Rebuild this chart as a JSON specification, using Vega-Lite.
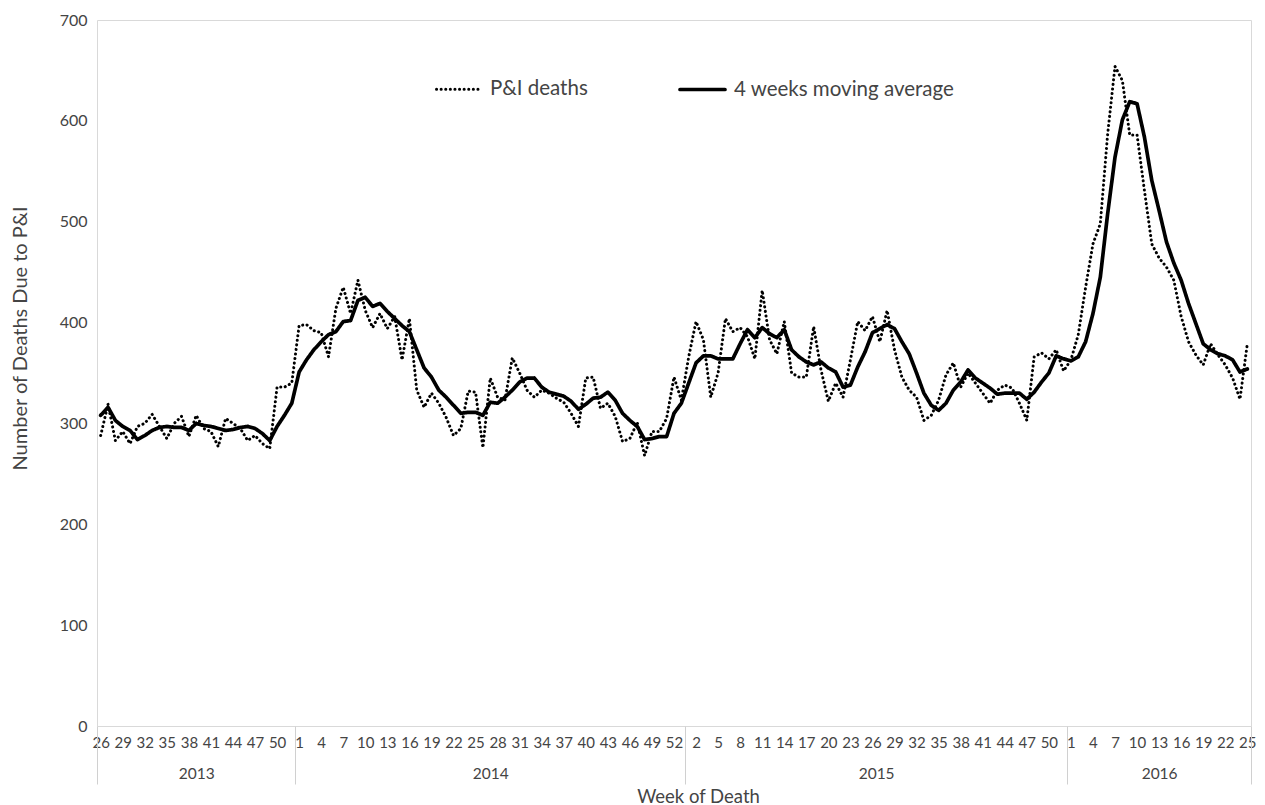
{
  "$schema": "https://vega.github.io/schema/vega-lite/v6.json",
  "width": 1154,
  "height": 706,
  "autosize": "none",
  "padding": {"left": 97, "top": 20, "right": 14, "bottom": 79},
  "background": "white",
  "config": {
    "font": "Lato",
    "view": {"stroke": "#d9d9d9", "strokeWidth": 1}
  },
  "datasets": {
    "weeks": [
      {"idx":0,"year":2013,"week":26,"deaths":288,"ma":308},
      {"idx":1,"year":2013,"week":27,"deaths":319,"ma":316},
      {"idx":2,"year":2013,"week":28,"deaths":283,"ma":303},
      {"idx":3,"year":2013,"week":29,"deaths":292,"ma":297},
      {"idx":4,"year":2013,"week":30,"deaths":280,"ma":293},
      {"idx":5,"year":2013,"week":31,"deaths":297,"ma":284},
      {"idx":6,"year":2013,"week":32,"deaths":300,"ma":288},
      {"idx":7,"year":2013,"week":33,"deaths":309,"ma":293},
      {"idx":8,"year":2013,"week":34,"deaths":297,"ma":296},
      {"idx":9,"year":2013,"week":35,"deaths":285,"ma":297},
      {"idx":10,"year":2013,"week":36,"deaths":300,"ma":296},
      {"idx":11,"year":2013,"week":37,"deaths":307,"ma":296},
      {"idx":12,"year":2013,"week":38,"deaths":287,"ma":293},
      {"idx":13,"year":2013,"week":39,"deaths":308,"ma":300},
      {"idx":14,"year":2013,"week":40,"deaths":295,"ma":298},
      {"idx":15,"year":2013,"week":41,"deaths":292,"ma":297},
      {"idx":16,"year":2013,"week":42,"deaths":277,"ma":295},
      {"idx":17,"year":2013,"week":43,"deaths":305,"ma":293},
      {"idx":18,"year":2013,"week":44,"deaths":300,"ma":294},
      {"idx":19,"year":2013,"week":45,"deaths":295,"ma":296},
      {"idx":20,"year":2013,"week":46,"deaths":283,"ma":297},
      {"idx":21,"year":2013,"week":47,"deaths":288,"ma":295},
      {"idx":22,"year":2013,"week":48,"deaths":280,"ma":290},
      {"idx":23,"year":2013,"week":49,"deaths":275,"ma":283},
      {"idx":24,"year":2013,"week":50,"deaths":336,"ma":297},
      {"idx":25,"year":2013,"week":51,"deaths":336,"ma":308},
      {"idx":26,"year":2013,"week":52,"deaths":340,"ma":320},
      {"idx":27,"year":2014,"week":1,"deaths":397,"ma":351},
      {"idx":28,"year":2014,"week":2,"deaths":398,"ma":363},
      {"idx":29,"year":2014,"week":3,"deaths":392,"ma":373},
      {"idx":30,"year":2014,"week":4,"deaths":390,"ma":381},
      {"idx":31,"year":2014,"week":5,"deaths":366,"ma":388},
      {"idx":32,"year":2014,"week":6,"deaths":414,"ma":391},
      {"idx":33,"year":2014,"week":7,"deaths":435,"ma":401},
      {"idx":34,"year":2014,"week":8,"deaths":409,"ma":402},
      {"idx":35,"year":2014,"week":9,"deaths":442,"ma":422},
      {"idx":36,"year":2014,"week":10,"deaths":412,"ma":425},
      {"idx":37,"year":2014,"week":11,"deaths":395,"ma":416},
      {"idx":38,"year":2014,"week":12,"deaths":409,"ma":419},
      {"idx":39,"year":2014,"week":13,"deaths":394,"ma":411},
      {"idx":40,"year":2014,"week":14,"deaths":406,"ma":404},
      {"idx":41,"year":2014,"week":15,"deaths":363,"ma":397},
      {"idx":42,"year":2014,"week":16,"deaths":404,"ma":391},
      {"idx":43,"year":2014,"week":17,"deaths":333,"ma":373},
      {"idx":44,"year":2014,"week":18,"deaths":316,"ma":355},
      {"idx":45,"year":2014,"week":19,"deaths":330,"ma":346},
      {"idx":46,"year":2014,"week":20,"deaths":320,"ma":333},
      {"idx":47,"year":2014,"week":21,"deaths":306,"ma":326},
      {"idx":48,"year":2014,"week":22,"deaths":288,"ma":318},
      {"idx":49,"year":2014,"week":23,"deaths":295,"ma":310},
      {"idx":50,"year":2014,"week":24,"deaths":332,"ma":311},
      {"idx":51,"year":2014,"week":25,"deaths":331,"ma":311},
      {"idx":52,"year":2014,"week":26,"deaths":276,"ma":308},
      {"idx":53,"year":2014,"week":27,"deaths":345,"ma":321},
      {"idx":54,"year":2014,"week":28,"deaths":326,"ma":320},
      {"idx":55,"year":2014,"week":29,"deaths":323,"ma":326},
      {"idx":56,"year":2014,"week":30,"deaths":365,"ma":333},
      {"idx":57,"year":2014,"week":31,"deaths":350,"ma":341},
      {"idx":58,"year":2014,"week":32,"deaths":333,"ma":345},
      {"idx":59,"year":2014,"week":33,"deaths":326,"ma":345},
      {"idx":60,"year":2014,"week":34,"deaths":333,"ma":336},
      {"idx":61,"year":2014,"week":35,"deaths":330,"ma":331},
      {"idx":62,"year":2014,"week":36,"deaths":325,"ma":329},
      {"idx":63,"year":2014,"week":37,"deaths":321,"ma":327},
      {"idx":64,"year":2014,"week":38,"deaths":310,"ma":322},
      {"idx":65,"year":2014,"week":39,"deaths":297,"ma":314},
      {"idx":66,"year":2014,"week":40,"deaths":345,"ma":319},
      {"idx":67,"year":2014,"week":41,"deaths":346,"ma":325},
      {"idx":68,"year":2014,"week":42,"deaths":315,"ma":326},
      {"idx":69,"year":2014,"week":43,"deaths":320,"ma":331},
      {"idx":70,"year":2014,"week":44,"deaths":307,"ma":323},
      {"idx":71,"year":2014,"week":45,"deaths":282,"ma":310},
      {"idx":72,"year":2014,"week":46,"deaths":285,"ma":303},
      {"idx":73,"year":2014,"week":47,"deaths":301,"ma":297},
      {"idx":74,"year":2014,"week":48,"deaths":268,"ma":284},
      {"idx":75,"year":2014,"week":49,"deaths":292,"ma":285},
      {"idx":76,"year":2014,"week":50,"deaths":292,"ma":287},
      {"idx":77,"year":2014,"week":51,"deaths":305,"ma":287},
      {"idx":78,"year":2014,"week":52,"deaths":346,"ma":310},
      {"idx":79,"year":2014,"week":53,"deaths":323,"ma":320},
      {"idx":80,"year":2015,"week":1,"deaths":366,"ma":340},
      {"idx":81,"year":2015,"week":2,"deaths":401,"ma":360},
      {"idx":82,"year":2015,"week":3,"deaths":383,"ma":367},
      {"idx":83,"year":2015,"week":4,"deaths":326,"ma":367},
      {"idx":84,"year":2015,"week":5,"deaths":350,"ma":364},
      {"idx":85,"year":2015,"week":6,"deaths":404,"ma":364},
      {"idx":86,"year":2015,"week":7,"deaths":391,"ma":364},
      {"idx":87,"year":2015,"week":8,"deaths":395,"ma":379},
      {"idx":88,"year":2015,"week":9,"deaths":386,"ma":393},
      {"idx":89,"year":2015,"week":10,"deaths":364,"ma":385},
      {"idx":90,"year":2015,"week":11,"deaths":432,"ma":395},
      {"idx":91,"year":2015,"week":12,"deaths":383,"ma":389},
      {"idx":92,"year":2015,"week":13,"deaths":369,"ma":385},
      {"idx":93,"year":2015,"week":14,"deaths":401,"ma":393},
      {"idx":94,"year":2015,"week":15,"deaths":350,"ma":373},
      {"idx":95,"year":2015,"week":16,"deaths":346,"ma":366},
      {"idx":96,"year":2015,"week":17,"deaths":346,"ma":361},
      {"idx":97,"year":2015,"week":18,"deaths":396,"ma":358},
      {"idx":98,"year":2015,"week":19,"deaths":353,"ma":361},
      {"idx":99,"year":2015,"week":20,"deaths":322,"ma":355},
      {"idx":100,"year":2015,"week":21,"deaths":340,"ma":351},
      {"idx":101,"year":2015,"week":22,"deaths":326,"ma":336},
      {"idx":102,"year":2015,"week":23,"deaths":363,"ma":338},
      {"idx":103,"year":2015,"week":24,"deaths":401,"ma":356},
      {"idx":104,"year":2015,"week":25,"deaths":392,"ma":371},
      {"idx":105,"year":2015,"week":26,"deaths":406,"ma":390},
      {"idx":106,"year":2015,"week":27,"deaths":381,"ma":394},
      {"idx":107,"year":2015,"week":28,"deaths":412,"ma":398},
      {"idx":108,"year":2015,"week":29,"deaths":373,"ma":394},
      {"idx":109,"year":2015,"week":30,"deaths":346,"ma":381},
      {"idx":110,"year":2015,"week":31,"deaths":333,"ma":369},
      {"idx":111,"year":2015,"week":32,"deaths":326,"ma":350},
      {"idx":112,"year":2015,"week":33,"deaths":303,"ma":330},
      {"idx":113,"year":2015,"week":34,"deaths":308,"ma":318},
      {"idx":114,"year":2015,"week":35,"deaths":323,"ma":313},
      {"idx":115,"year":2015,"week":36,"deaths":348,"ma":320},
      {"idx":116,"year":2015,"week":37,"deaths":360,"ma":333},
      {"idx":117,"year":2015,"week":38,"deaths":336,"ma":341},
      {"idx":118,"year":2015,"week":39,"deaths":350,"ma":353},
      {"idx":119,"year":2015,"week":40,"deaths":340,"ma":345},
      {"idx":120,"year":2015,"week":41,"deaths":330,"ma":340},
      {"idx":121,"year":2015,"week":42,"deaths":320,"ma":335},
      {"idx":122,"year":2015,"week":43,"deaths":333,"ma":329},
      {"idx":123,"year":2015,"week":44,"deaths":338,"ma":330},
      {"idx":124,"year":2015,"week":45,"deaths":335,"ma":330},
      {"idx":125,"year":2015,"week":46,"deaths":320,"ma":330},
      {"idx":126,"year":2015,"week":47,"deaths":303,"ma":324},
      {"idx":127,"year":2015,"week":48,"deaths":366,"ma":331},
      {"idx":128,"year":2015,"week":49,"deaths":370,"ma":341},
      {"idx":129,"year":2015,"week":50,"deaths":364,"ma":350},
      {"idx":130,"year":2015,"week":51,"deaths":373,"ma":367},
      {"idx":131,"year":2015,"week":52,"deaths":352,"ma":364},
      {"idx":132,"year":2016,"week":1,"deaths":363,"ma":362},
      {"idx":133,"year":2016,"week":2,"deaths":388,"ma":366},
      {"idx":134,"year":2016,"week":3,"deaths":435,"ma":381},
      {"idx":135,"year":2016,"week":4,"deaths":478,"ma":409},
      {"idx":136,"year":2016,"week":5,"deaths":498,"ma":445},
      {"idx":137,"year":2016,"week":6,"deaths":587,"ma":508},
      {"idx":138,"year":2016,"week":7,"deaths":654,"ma":564},
      {"idx":139,"year":2016,"week":8,"deaths":640,"ma":601},
      {"idx":140,"year":2016,"week":9,"deaths":586,"ma":619},
      {"idx":141,"year":2016,"week":10,"deaths":586,"ma":617},
      {"idx":142,"year":2016,"week":11,"deaths":531,"ma":584},
      {"idx":143,"year":2016,"week":12,"deaths":478,"ma":541},
      {"idx":144,"year":2016,"week":13,"deaths":464,"ma":511},
      {"idx":145,"year":2016,"week":14,"deaths":455,"ma":480},
      {"idx":146,"year":2016,"week":15,"deaths":442,"ma":459},
      {"idx":147,"year":2016,"week":16,"deaths":406,"ma":442},
      {"idx":148,"year":2016,"week":17,"deaths":381,"ma":419},
      {"idx":149,"year":2016,"week":18,"deaths":368,"ma":399},
      {"idx":150,"year":2016,"week":19,"deaths":358,"ma":379},
      {"idx":151,"year":2016,"week":20,"deaths":379,"ma":373},
      {"idx":152,"year":2016,"week":21,"deaths":368,"ma":369},
      {"idx":153,"year":2016,"week":22,"deaths":358,"ma":367},
      {"idx":154,"year":2016,"week":23,"deaths":345,"ma":363},
      {"idx":155,"year":2016,"week":24,"deaths":324,"ma":351},
      {"idx":156,"year":2016,"week":25,"deaths":379,"ma":354}
    ],
    "years": [
      {"year":"2013","mid":13},
      {"year":"2014","mid":53},
      {"year":"2015","mid":105.5},
      {"year":"2016","mid":144}
    ],
    "bounds": [
      {"b":-0.5},{"b":26.5},{"b":79.5},{"b":131.5},{"b":156.5}
    ]
  },
  "layer": [
    {
      "data": {"name": "weeks"},
      "transform": [{"fold": ["deaths", "ma"], "as": ["series", "value"]}],
      "mark": {"type": "line", "color": "black", "strokeCap": "round", "strokeJoin": "round"},
      "encoding": {
        "x": {
          "field": "idx", "type": "quantitative",
          "scale": {"domain": [-0.5, 156.5], "nice": false, "zero": false},
          "axis": {
            "orient": "bottom",
            "values": [0,3,6,9,12,15,18,21,24,27,30,33,36,39,42,45,48,51,54,57,60,63,66,69,72,75,78,81,84,87,90,93,96,99,102,105,108,111,114,117,120,123,126,129,132,135,138,141,144,147,150,153,156],
            "labelExpr": "datum.value < 27 ? datum.value + 26 : datum.value < 80 ? datum.value - 26 : datum.value < 132 ? datum.value - 79 : datum.value - 131",
            "ticks": false, "domain": false, "grid": false,
            "labelFontSize": 15, "labelColor": "#444444", "labelPadding": 9,
            "labelFlush": false, "labelOverlap": false, "title": null
          }
        },
        "y": {
          "field": "value", "type": "quantitative",
          "scale": {"domain": [0, 700], "nice": false},
          "axis": {
            "values": [0,100,200,300,400,500,600,700],
            "ticks": false, "domain": false, "grid": false,
            "labelFontSize": 16, "labelColor": "#444444", "labelPadding": 10,
            "title": "Number of Deaths Due to P&I",
            "titleFontSize": 20, "titleFontWeight": "normal", "titleColor": "#444444",
            "titleBaseline": "middle", "titleX": -77, "titleY": 318
          }
        },
        "strokeDash": {
          "field": "series", "type": "nominal",
          "scale": {"domain": ["deaths", "ma"], "range": [[0.1, 4.5], [1, 0]]},
          "legend": {
            "orient": "none", "legendX": 338, "legendY": 45, "direction": "horizontal",
            "title": null, "symbolType": "stroke", "symbolSize": 2025, "symbolStrokeColor": "black",
            "labelExpr": "datum.label == 'deaths' ? 'P&I deaths' : '4 weeks moving average'",
            "labelFontSize": 20.5, "labelColor": "#444444", "labelOffset": 7, "columnPadding": 84,
            "labelLimit": 400,
            "encode": {"symbols": {"update": {"strokeCap": {"value": "round"}}}}
          }
        },
        "strokeWidth": {
          "field": "series", "type": "nominal",
          "scale": {"domain": ["deaths", "ma"], "range": [3, 3.7]},
          "legend": {
            "orient": "none", "legendX": 338, "legendY": 45, "direction": "horizontal",
            "title": null, "symbolType": "stroke", "symbolSize": 2025, "symbolStrokeColor": "black",
            "labelExpr": "datum.label == 'deaths' ? 'P&I deaths' : '4 weeks moving average'",
            "labelFontSize": 20.5, "labelColor": "#444444", "labelOffset": 7, "columnPadding": 84,
            "labelLimit": 400,
            "encode": {"symbols": {"update": {"strokeCap": {"value": "round"}}}}
          }
        }
      }
    },
    {
      "data": {"name": "years"},
      "mark": {"type": "rule", "opacity": 0},
      "encoding": {
        "x": {
          "field": "mid", "type": "quantitative",
          "scale": {"domain": [-0.5, 156.5], "nice": false, "zero": false},
          "axis": {
            "orient": "bottom",
            "values": [13, 53, 105.5, 144],
            "labelExpr": "datum.value < 27 ? '2013' : datum.value < 80 ? '2014' : datum.value < 132 ? '2015' : '2016'",
            "ticks": false, "domain": false, "grid": false,
            "labelFontSize": 15.5, "labelColor": "#444444", "labelPadding": 40,
            "labelFlush": false, "labelOverlap": false, "title": null
          }
        }
      }
    },
    {
      "data": {"name": "bounds"},
      "mark": {"type": "rule", "opacity": 0},
      "encoding": {
        "x": {
          "field": "b", "type": "quantitative",
          "scale": {"domain": [-0.5, 156.5], "nice": false, "zero": false},
          "axis": {
            "orient": "bottom",
            "values": [-0.5, 26.5, 79.5, 131.5, 156.5],
            "ticks": true, "tickSize": 58, "tickColor": "#d0d0d0", "tickWidth": 1,
            "labels": false, "domain": false, "grid": false,
            "title": "Week of Death", "titleFontSize": 18.5, "titleFontWeight": "normal",
            "titleColor": "#444444", "titleBaseline": "alphabetic", "titleX": 601, "titleY": 76
          }
        }
      }
    }
  ],
  "resolve": {"scale": {"x": "independent"}, "axis": {"x": "independent"}}
}
